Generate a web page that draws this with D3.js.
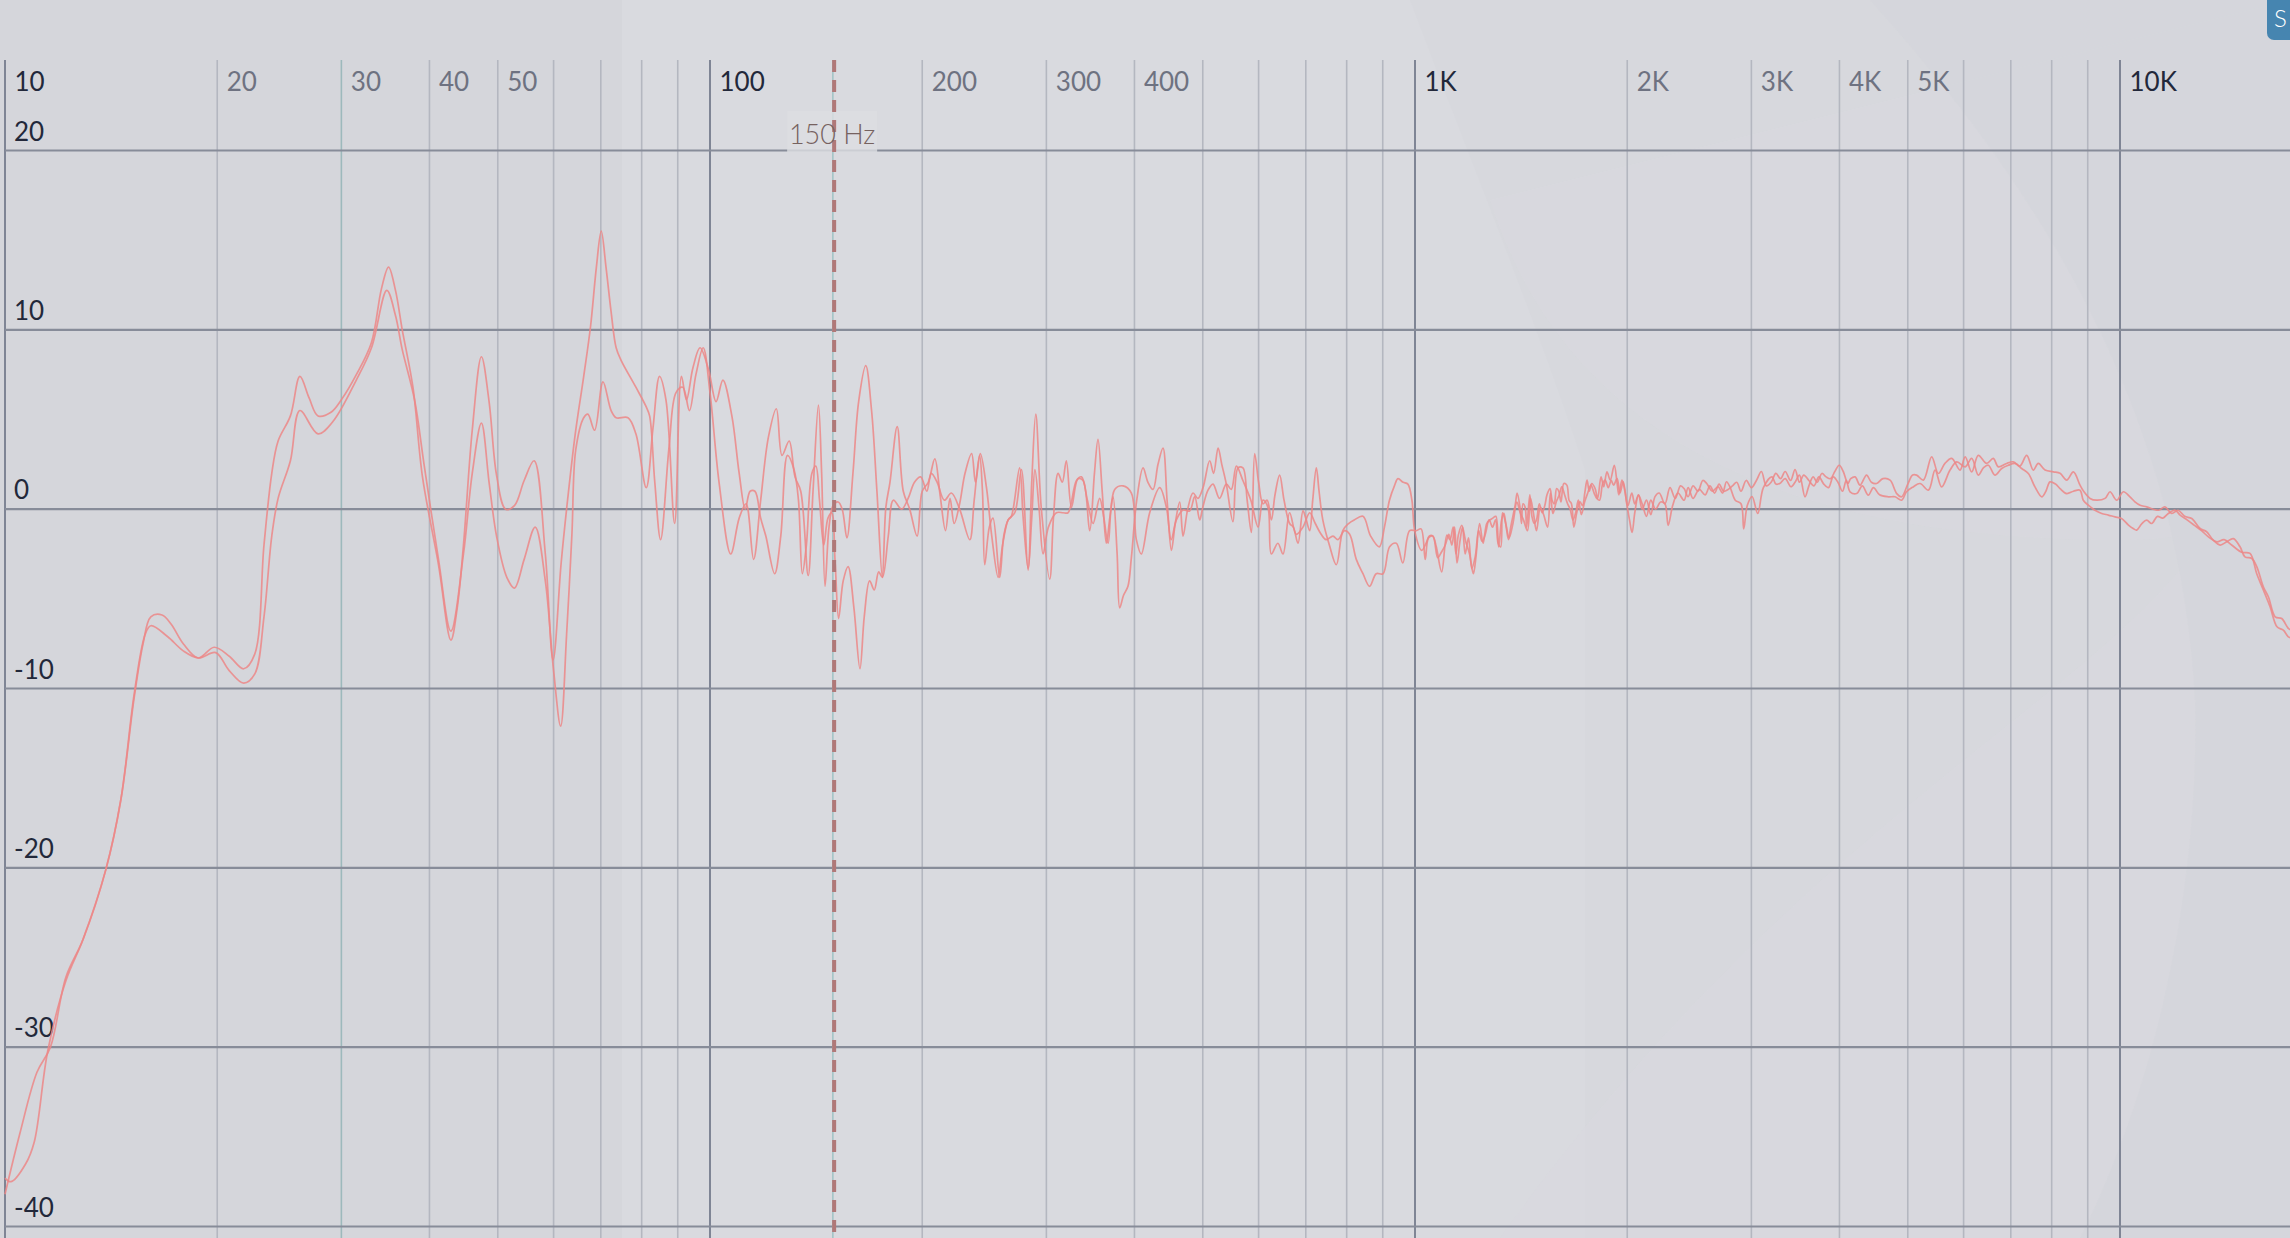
<!DOCTYPE html>
<html><head><meta charset="utf-8">
<script src="https://cdn.jsdelivr.net/npm/d3@7"></script>
<style>
html,body{margin:0;padding:0;background:#d9dadf;overflow:hidden}
svg{display:block}
text{font-family:Lato,"Noto Sans",sans-serif}
</style></head><body>
<svg id="chart" width="2290" height="1238"></svg>
<script>
// ---------- data ----------
const gridFreqs = [10,20,30,40,50,60,70,80,90,100,200,300,400,500,600,700,800,900,1000,2000,3000,4000,5000,6000,7000,8000,9000,10000,20000];
const majorFreqs = [10,100,1000,10000];
const accentFreqs = [30];
const xLabelFreqs = [10,20,30,40,50,100,200,300,400,1000,2000,3000,4000,5000,10000];
const xLabelText = ["10","20","30","40","50","100","200","300","400","1K","2K","3K","4K","5K","10K"];
const dbTicks = [20,10,0,-10,-20,-30,-40];
const markerFreq = 150;
const markerLabel = "150 Hz";
const buttonLabel = "S";

const curveA = [[10,-38.2],[10.5,-34.8],[11.1,-31.4],[11.6,-30.0],[12.2,-26.1],[12.9,-24.0],[13.9,-20.1],[14.6,-16.2],[15.25,-10.5],[15.7,-7.5],[16.1,-6.0],[16.7,-5.9],[17.2,-6.4],[17.9,-7.5],[18.8,-8.3],[19.8,-7.7],[20.8,-8.2],[21.8,-8.9],[22.6,-8.1],[23.3,-2.0],[23.9,2.0],[24.4,3.8],[25.4,5.2],[26.2,7.4],[27.0,6.2],[27.8,5.2],[29.0,5.4],[30.0,6.1],[31.5,7.5],[33.1,9.3],[34.2,12.3],[35.0,13.5],[35.8,12.2],[36.6,10.0],[37.9,6.8],[39.1,1.8],[41.2,-3.1],[42.9,-7.3],[43.8,-5.5],[44.7,-2.0],[46.0,4.4],[47.4,8.5],[48.6,6.0],[49.8,1.9],[51.3,0.0],[52.8,0.2],[54.5,1.6],[56.3,2.7],[58.4,-2.5],[59.9,-8.4],[61.5,-3.0],[62.8,0.5],[64.4,4.2],[66.2,7.4],[67.7,10.2],[69.0,13.5],[70.1,15.5],[71.2,13.5],[72.4,11.0],[73.6,9.0],[74.8,8.3],[78.5,6.8],[81.2,5.7],[82.1,5.2],[83.5,1.5],[85.1,-1.7],[87.5,3.5],[89.5,6.5],[91.5,6.8],[93.5,5.5],[95.5,7.5],[97.8,9.0],[100,6.5],[103,1.5],[107,-2.5],[110,-0.5],[112.5,0.3],[115.3,-2.8],[118,0.5],[121,4.0],[124.2,5.6],[126.5,3.0],[129.5,3.8],[132,1.8],[134.5,1.0],[137.8,-3.7],[140,1.0],[142.5,5.8],[144,2.0],[145.6,-4.3],[147.5,-1.0],[149.5,0.2],[152,0.4],[154,0.0],[156.4,-1.6],[159.5,2.0],[162.5,6.0],[166.3,8.0],[169.5,5.5],[172.5,1.0],[175.6,-3.8],[177.6,0.1],[180,1.5],[184.3,4.6],[188,1.0],[192,0.0],[196.7,-1.5],[200,1.0],[204,1.5],[208.4,2.8],[212,0.8],[215.8,-1.2],[219,0.6],[222,-0.8],[226,0.3],[230,2.0],[235,3.1],[238,1.5],[241.8,3.1],[246.7,1.2],[251,-1.5],[256.3,-3.8],[260,-2.0],[264.8,-0.6],[267.6,-0.4],[274.9,2.3],[278,-0.4],[282.6,-3.3],[286,1.5],[289.8,5.3],[295,0.1],[303.3,-3.9],[307,-0.5],[311.7,2.0],[316,1.5],[320.2,2.7],[325.6,0.1],[332.7,1.7],[338.2,1.6],[345.6,-1.2],[351,2.0],[355.1,3.9],[360,1.0],[364.9,-1.9],[369,-0.5],[373,0.7],[378,-2.5],[381.2,-5.5],[386,-4.8],[391.6,-4.3],[396,-2.7],[403,0.5],[411.4,2.3],[418,1.5],[425,1.1],[432,2.5],[439.1,3.4],[445,0.5],[451.3,-2.3],[457,-0.8],[463.7,0.4],[468.8,-1.5],[476,0.0],[484.3,0.9],[492,0.6],[500.4,1.2],[511.4,2.7],[518,2.0],[525.6,3.4],[532,2.5],[540,1.4],[551.8,-0.7],[561,2.3],[570,2.3],[578,0.5],[586,-1.3],[592.4,3.1],[600,1.5],[608.7,0.3],[617,0.5],[625.5,-0.6],[633,0.8],[642.7,1.9],[652,0.5],[664,-0.8],[672,-1.0],[682.4,-1.9],[693.6,-0.1],[700,-0.5],[709,-1.2],[716,0.5],[724.5,2.3],[731,1.0],[740,-0.6],[756,-2.0],[773.4,-3.1],[790,-1.2],[805,-0.8],[820,-0.6],[843.7,-0.4],[865,-1.5],[890,-2.1],[905,-1.0],[920,0.5],[935,1.3],[946,1.7],[962,1.5],[977,1.4],[990,0.5],[999,-1.2],[1022,-2.3],[1037,-1.9],[1048,-1.5],[1060,-1.5],[1072,-2.1],[1091,-3.5],[1110,-1.45],[1121,-1.7],[1133,-1.0],[1143,-2.5],[1152,-1.45],[1165,-0.9],[1180,-1.8],[1195,-2.5],[1210,-3.6],[1220,-2.7],[1235,-0.8],[1249,-1.9],[1264,-0.8],[1277,-0.6],[1289,-0.5],[1302,-0.4],[1314,-2.1],[1327,-0.6],[1337,-0.24],[1347,-1.0],[1357,-1.7],[1367,-1.0],[1388,0.3],[1396,0.9],[1409,0.1],[1416,-0.8],[1423,0.3],[1433,0.1],[1440,-1.0],[1455,0.8],[1465,-0.4],[1476,-0.8],[1487,-0.6],[1501,0.3],[1515,-0.2],[1528,0.2],[1539,0.8],[1554,1.15],[1565,0.5],[1576,0.3],[1588,1.15],[1599,1.0],[1611,0.4],[1626,1.43],[1642,1.34],[1654,0.5],[1667,0.3],[1680,-1.0],[1697,-0.15],[1714,0.41],[1728,0.2],[1742,0.96],[1754,1.62],[1767,1.0],[1781,1.43],[1801,1.15],[1816,0.6],[1836,1.8],[1852,1.25],[1872,2.08],[1892,1.62],[1917,2.45],[1934,1.52],[1946,0.8],[1966,1.62],[1985,1.0],[2005,0.2],[2030,0.9],[2050,0.3],[2075,0.8],[2100,0.0],[2130,0.5],[2160,-0.3],[2190,0.7],[2220,0.9],[2262,0.3],[2300,1.2],[2340,0.6],[2380,1.3],[2408,1.15],[2440,0.7],[2480,1.3],[2520,1.0],[2560,1.6],[2593,1.43],[2640,1.0],[2690,1.25],[2730,0.9],[2766,1.53],[2800,1.2],[2846,0.5],[2900,0.3],[2926,-1.1],[2960,0.2],[3007,0.7],[3063,-0.24],[3120,1.2],[3208,1.8],[3250,1.4],[3291,1.43],[3350,1.7],[3414,1.25],[3460,1.5],[3510,1.9],[3574,0.69],[3620,1.3],[3671,1.8],[3720,1.5],[3777,1.99],[3830,1.8],[3885,1.7],[3940,2.1],[3997,2.45],[4050,2.1],[4111,1.43],[4150,1.7],[4210,1.8],[4278,1.34],[4370,1.9],[4440,1.5],[4517,1.43],[4610,1.7],[4719,1.62],[4823,0.87],[4900,0.69],[5004,1.43],[5080,1.9],[5146,1.9],[5261,1.62],[5406,2.92],[5525,1.99],[5645,2.55],[5771,2.83],[5930,2.18],[6031,2.92],[6161,2.08],[6295,3.0],[6470,2.55],[6611,2.83],[6721,2.36],[6906,2.55],[7059,2.64],[7210,2.4],[7373,3.0],[7533,2.18],[7658,2.55],[7829,2.18],[8043,2.08],[8221,2.0],[8401,1.62],[8588,2.08],[8776,1.34],[8890,0.97],[9067,0.6],[9265,0.5],[9523,0.6],[9679,0.97],[9893,0.5],[10110,0.97],[10330,0.69],[10500,0.41],[10680,0.22],[10910,0.13],[11340,-0.06],[11580,0.13],[11840,-0.24],[12090,-0.06],[12350,-0.4],[12640,-0.52],[12990,-1.08],[13270,-1.26],[13560,-1.73],[13870,-2.0],[14170,-1.82],[14480,-1.64],[14800,-2.1],[15040,-2.66],[15380,-2.75],[15630,-3.2],[15970,-4.33],[16240,-4.9],[16600,-6.0],[16960,-6.1],[17330,-6.65],[17600,-6.8]];

const curveB = [[10,-37.3],[10.2,-37.5],[10.7,-36.5],[11.0,-35.3],[11.5,-30.2],[12.2,-26.3],[12.9,-24.0],[13.9,-20.1],[14.6,-16.2],[15.25,-10.3],[15.8,-7.0],[16.1,-6.5],[17.0,-7.1],[17.9,-7.9],[18.8,-8.3],[19.9,-8.0],[20.8,-9.0],[21.8,-9.7],[22.6,-9.2],[23.3,-6.0],[23.9,-1.5],[24.4,0.6],[25.4,2.7],[26.2,5.5],[27.8,4.2],[29.2,4.9],[31.5,7.2],[33.1,9.0],[34.8,12.2],[35.8,10.8],[36.6,8.9],[38.1,6.1],[39.3,2.5],[41.2,-2.8],[42.9,-6.8],[44.7,-2.5],[46.0,2.0],[47.4,4.8],[48.6,1.5],[49.8,-1.5],[51.5,-3.8],[52.8,-4.4],[54.5,-2.8],[56.5,-1.0],[58.4,-4.0],[60.0,-9.0],[61.4,-12.1],[62.6,-7.0],[63.7,-1.4],[64.5,3.3],[66.2,5.1],[67.1,5.3],[68.6,4.4],[70.5,7.1],[72.4,5.5],[73.6,5.1],[76.5,5.1],[78.5,4.2],[81.2,1.2],[83.0,4.5],[84.8,7.4],[86.6,6.1],[89.1,-0.8],[91.1,7.4],[92.6,6.1],[94.6,7.9],[96.8,9.0],[99.5,7.8],[102,6.0],[104.3,7.2],[107.4,5.2],[110,2.0],[112.2,0.0],[114,1.0],[115.8,1.0],[118,-0.5],[120,-1.5],[123.5,-3.6],[126,-1.5],[128.8,3.0],[131.6,2.2],[133.5,0.5],[135.2,-3.6],[137,-2.0],[139.5,2.0],[141.3,2.4],[143,0.5],[145,-2.0],[147,-0.5],[148.8,-0.2],[150.5,-3.0],[152.2,-6.1],[154.5,-4.0],[157,-3.2],[160,-5.5],[163.2,-8.9],[165.5,-6.0],[168.4,-4.0],[171,-4.5],[173.5,-3.5],[175.6,-3.8],[179,-1.5],[182,0.5],[187,0.0],[191,0.6],[195,1.5],[199,1.8],[203,1.0],[206,2.0],[210,1.5],[215,0.5],[220,0.9],[226,0.0],[233.6,-1.7],[237,0.5],[241.2,3.0],[243.5,1.0],[245.3,-3.1],[249,-1.0],[252,-0.5],[257.6,-3.8],[261,-1.5],[264.8,-0.6],[270.6,-0.2],[276.5,2.2],[282.6,-3.4],[286,-0.5],[289,2.2],[293,0.0],[296.8,-2.5],[302,-1.0],[310,-0.2],[316.8,-0.2],[322,-0.2],[331,1.6],[336.5,1.8],[343,0.5],[349.4,-0.8],[357,0.6],[362,-0.5],[367,-1.9],[375,1.1],[385.4,1.3],[396,0.9],[402.5,-1.7],[409,-2.5],[420.4,-0.2],[434.4,1.2],[444,0.1],[451,-1.7],[458.7,-0.6],[468.8,-0.05],[479,-0.1],[487,0.7],[495,-0.6],[500,0.1],[508.6,1.06],[517,1.4],[528,0.6],[540,1.4],[548.8,1.1],[558,2.4],[570,1.6],[585,0.5],[599,-1.0],[608.7,0.5],[618.6,0.1],[625.5,-2.5],[639,-1.9],[649.8,-2.5],[664,-0.2],[678.7,-1.4],[693.6,-1.0],[709,-0.2],[722,-0.8],[736,-1.4],[748,-1.7],[765,-1.5],[777.5,-1.7],[794.6,-1.2],[807.8,-1.4],[825.5,-2.8],[843.7,-3.6],[862,-4.3],[881,-3.6],[900.7,-3.6],[920.5,-2.1],[940.7,-1.9],[961,-3.0],[982.6,-1.2],[1004,-1.2],[1020,-1.1],[1034,-2.8],[1045,-1.6],[1060,-1.5],[1077,-2.7],[1090,-2.4],[1104,-2.0],[1117,-1.4],[1128,-2.0],[1138,-1.0],[1147,-3.0],[1158,-1.8],[1168,-1.0],[1178,-2.5],[1191,-1.6],[1204,-3.3],[1218,-2.6],[1231,-1.2],[1245,-1.8],[1258,-1.4],[1274,-0.6],[1288,-1.0],[1301,-0.6],[1312,-1.9],[1323,-2.1],[1331,-0.2],[1345,-0.8],[1360,-1.6],[1377,-0.8],[1395,0.4],[1410,-0.2],[1425,-0.6],[1444,-1.2],[1458,0.6],[1472,-0.2],[1487,-1.2],[1506,0.1],[1522,-0.3],[1542,-1.0],[1556,0.9],[1569,-0.24],[1586,0.4],[1602,0.8],[1615,1.25],[1630,0.8],[1646,0.3],[1660,0.0],[1675,-0.6],[1690,-0.2],[1705,0.5],[1722,-0.3],[1740,0.4],[1758,0.9],[1776,1.34],[1795,0.9],[1811,0.6],[1827,0.5],[1846,1.43],[1861,1.62],[1880,1.2],[1898,1.6],[1913,1.34],[1935,1.7],[1953,0.9],[1974,1.52],[1995,0.4],[2015,-0.6],[2032,-1.3],[2050,-0.2],[2075,0.78],[2100,0.3],[2130,-0.4],[2160,0.5],[2194,0.0],[2230,0.4],[2262,0.3],[2286,-0.9],[2320,0.2],[2360,0.9],[2408,0.5],[2440,1.2],[2480,0.6],[2530,1.1],[2580,0.8],[2620,1.3],[2660,0.9],[2700,1.4],[2740,1.0],[2780,1.1],[2820,1.3],[2860,1.5],[2900,1.0],[2950,1.6],[3000,1.2],[3050,1.6],[3100,2.1],[3150,1.3],[3200,1.5],[3250,2.0],[3300,1.7],[3350,2.1],[3410,1.6],[3460,2.2],[3510,1.5],[3560,1.9],[3620,1.6],[3680,1.3],[3740,1.8],[3800,1.4],[3860,1.2],[3920,1.8],[3980,1.5],[4040,1.0],[4090,1.6],[4141,0.97],[4232,0.87],[4310,1.3],[4395,0.78],[4470,1.2],[4560,0.8],[4693,0.69],[4797,0.69],[4900,0.5],[4979,0.97],[5088,1.24],[5204,1.43],[5349,1.06],[5466,2.18],[5584,1.24],[5740,2.18],[5867,2.64],[6031,2.36],[6161,2.83],[6295,1.9],[6400,2.3],[6505,2.45],[6647,1.9],[6795,2.27],[6944,2.45],[7098,2.55],[7254,2.27],[7413,1.99],[7575,1.24],[7744,0.69],[7850,1.0],[7957,1.52],[8100,1.4],[8221,1.15],[8401,0.87],[8590,1.0],[8776,1.06],[8870,0.5],[9016,0.22],[9215,-0.06],[9420,-0.24],[9626,-0.33],[9839,-0.43],[10050,-0.52],[10280,-0.89],[10440,-1.08],[10560,-1.17],[10740,-0.8],[10910,-0.61],[11090,-0.8],[11300,-0.4],[11500,-0.5],[11710,-0.24],[11970,-0.06],[12170,-0.33],[12450,-0.6],[12750,-0.9],[13050,-1.2],[13400,-1.6],[13720,-1.82],[14050,-1.7],[14400,-2.0],[14880,-2.4],[15290,-2.47],[15630,-3.6],[15970,-4.5],[16330,-5.45],[16700,-6.56],[17050,-6.75],[17330,-7.12],[17600,-7.2]];

// ---------- layout ----------
const W = 2290, H = 1238;
const gridTop = 60;
const x = d3.scaleLog().domain([10, 10000]).range([5, 2120]);
const y = d3.scaleLinear().domain([-40, 20]).range([1226.5, 150.5]);

const svg = d3.select("#chart");

// background panels + faint watermark shapes
svg.append("rect").attr("x",0).attr("y",0).attr("width",W).attr("height",H).attr("fill","#d9dadf");
svg.append("rect").attr("x",0).attr("y",0).attr("width",622).attr("height",H).attr("fill","#d5d6db");
const deco = svg.append("g").attr("fill","none");
deco.append("path").attr("d","M1410,0 C1470,160 1540,330 1585,470 L1585,1238 L2290,1238 L2290,0 Z").attr("fill","#d6d7dc").attr("opacity",0.6);
deco.append("path").attr("d","M1490,200 C1560,420 1760,540 2120,540 C2160,540 2190,535 2210,530 C2100,700 1800,820 1500,1238 L2290,1238 L2290,0 Z").attr("fill","#d8d9de").attr("opacity",0.7);
deco.append("path").attr("d","M1870,0 C2050,200 2180,420 2195,700 C2200,900 2150,1100 2080,1238 L2290,1238 L2290,0 Z").attr("fill","#d4d5da").attr("opacity",0.55);

// vertical grid
const vg = svg.append("g");
vg.selectAll("line").data(gridFreqs).join("line")
  .attr("x1", d => x(d)).attr("x2", d => x(d))
  .attr("y1", gridTop).attr("y2", H)
  .attr("stroke", d => majorFreqs.includes(d) ? "#7f8595" : (accentFreqs.includes(d) ? "#9db9bc" : "#b4b7c0"))
  .attr("stroke-width", d => majorFreqs.includes(d) ? 2 : 1.6);

// horizontal grid
const hg = svg.append("g");
hg.selectAll("line").data(dbTicks).join("line")
  .attr("x1", x(10)).attr("x2", W)
  .attr("y1", d => y(d)).attr("y2", d => y(d))
  .attr("stroke", "#878c99").attr("stroke-width", 2.2);

// x axis labels (top)
const xAxis = d3.axisTop(x).tickValues(xLabelFreqs)
  .tickFormat(d => xLabelText[xLabelFreqs.indexOf(d)]).tickSize(0).tickPadding(0);
const gx = svg.append("g").attr("transform", "translate(0,91)").call(xAxis);
gx.select(".domain").remove();
gx.selectAll("text")
  .attr("text-anchor","start").attr("dx", 9).attr("dy", 0).attr("y", 0)
  .style("font-family","Lato, 'Noto Sans', sans-serif").style("font-size","26px")
  .attr("fill", d => majorFreqs.includes(d) ? "#22283a" : "#6e7281");

// y axis labels (inside, above each line)
const yAxis = d3.axisRight(y).tickValues(dbTicks).tickFormat(d => String(d)).tickSize(0).tickPadding(0);
const gy = svg.append("g").attr("transform", `translate(${x(10)},0)`).call(yAxis);
gy.select(".domain").remove();
gy.selectAll("text")
  .attr("x", 9).attr("dy", -10.5).attr("text-anchor","start")
  .style("font-family","Lato, 'Noto Sans', sans-serif").style("font-size","26px")
  .attr("fill","#22283a");

// marker at 150 Hz
const mx = x(markerFreq);
svg.append("line").attr("x1", mx-1.3).attr("x2", mx-1.3).attr("y1", gridTop).attr("y2", H)
  .attr("stroke","#a3c4c6").attr("stroke-width",1.6);

// curves
const line = d3.line().x(d => x(d[0])).y(d => y(d[1])).curve(d3.curveCatmullRom.alpha(0.5));
const cg = svg.append("g").attr("fill","none").attr("stroke","#ec8787").attr("stroke-width",1.7)
  .attr("stroke-opacity",0.85).attr("stroke-linejoin","round");
cg.append("path").attr("d", line(curveA));
cg.append("path").attr("d", line(curveB));

// marker label box + dashed line
svg.append("rect").attr("x", mx-47).attr("y", 111).attr("width", 90).attr("height", 41)
  .attr("fill","#dcdde1").attr("opacity",0.8);
svg.append("line").attr("x1", mx).attr("x2", mx).attr("y1", gridTop).attr("y2", H)
  .attr("stroke","#b07878").attr("stroke-width",4).attr("stroke-dasharray","12 8");
svg.append("text").attr("x", mx-2).attr("y", 144).attr("text-anchor","middle")
  .style("font-family","Lato, 'Noto Sans', sans-serif").style("font-size","27px").style("font-weight",300)
  .attr("fill","#76625f").text(markerLabel);

// top-right button
svg.append("rect").attr("x",2267).attr("y",-10).attr("width",40).attr("height",50).attr("rx",7)
  .attr("fill","#4685b0");
svg.append("text").attr("x",2274).attr("y",27).style("font-size","24px").style("font-weight",300)
  .attr("fill","#ffffff").text(buttonLabel);
</script>
</body></html>
